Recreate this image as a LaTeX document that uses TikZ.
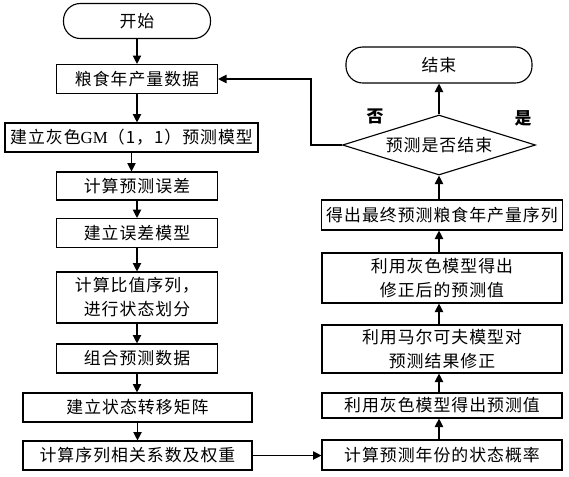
\documentclass[tikz,border=0pt]{standalone}
\usepackage{fontspec}
\setmainfont[LetterSpace=6]{Noto Sans CJK SC}
\newfontfamily\latinfont{Liberation Serif}
\usepackage{tikz}
\usetikzlibrary{shapes.geometric,arrows.meta}
\tikzset{
  box/.style={draw,thick,rectangle,inner sep=0pt,align=center,font=\fontsize{12}{17}\selectfont},
  term/.style={box,rounded corners=0.42cm},
  decide/.style={draw,thick,diamond,aspect=3,inner sep=0pt,font=\fontsize{12}{17}\selectfont},
  arr/.style={thick,-{Triangle[length=6pt,width=6pt]}}
}
\begin{document}
\begin{tikzpicture}[x=0.025cm,y=-0.025cm]
      \useasboundingbox (0,0) rectangle (569,476);
      % left column
      \node[term,minimum width=147*0.025cm,minimum height=35*0.025cm] (start) at (137,21) {开始};
      \node[box,minimum width=161*0.025cm,minimum height=29*0.025cm] (data) at (137,79) {粮食年产量数据};
      \node[box,minimum width=253*0.025cm,minimum height=29*0.025cm] (gm) at (131.5,137.5) {建立灰色{\latinfont GM}（1，1）预测模型};
      \node[box,minimum width=161*0.025cm,minimum height=28*0.025cm] (err) at (137,186) {计算预测误差};
      \node[box,minimum width=161*0.025cm,minimum height=29*0.025cm] (errmod) at (137,233) {建立误差模型};
      \node[box,minimum width=161*0.025cm,minimum height=51*0.025cm] (ratio) at (137,297.5) {计算比值序列，\\进行状态划分};
      \node[box,minimum width=161*0.025cm,minimum height=29*0.025cm] (comb) at (137,358.5) {组合预测数据};
      \node[box,minimum width=229*0.025cm,minimum height=29*0.025cm] (trans) at (137.5,407.5) {建立状态转移矩阵};
      \node[box,minimum width=229*0.025cm,minimum height=29*0.025cm] (corr) at (137.5,455.5) {计算序列相关系数及权重};
      % right column
      \node[box,minimum width=240*0.025cm,minimum height=30*0.025cm] (prob) at (442,455) {计算预测年份的状态概率};
      \node[box,minimum width=240*0.025cm,minimum height=25*0.025cm] (gpred) at (442,405.5) {利用灰色模型得出预测值};
      \node[box,minimum width=240*0.025cm,minimum height=48*0.025cm] (markov) at (442,349) {利用马尔可夫模型对\\预测结果修正};
      \node[box,minimum width=240*0.025cm,minimum height=50*0.025cm] (fixed) at (442,278) {利用灰色模型得出\\修正后的预测值};
      \node[box,minimum width=241*0.025cm,minimum height=30*0.025cm] (final) at (442,215) {得出最终预测粮食年产量序列};
      \node[decide,minimum width=193*0.025cm,minimum height=60*0.025cm] (dec) at (439,145) {预测是否结束};
      \node[term,minimum width=186*0.025cm,minimum height=36*0.025cm] (stop) at (439,65) {结束};
      \node[font=\fontsize{12}{14}\selectfont\bfseries] (no) at (375,116) {否};
      \node[font=\fontsize{12}{14}\selectfont\bfseries] (yes) at (523,118) {是};
      % connectors
      \foreach \a/\b in {start/data,data/gm,gm/err,err/errmod,errmod/ratio,ratio/comb,comb/trans,trans/corr}
        \draw[arr] (\a.south) -- (\a.south |- \b.north);
      \draw[arr] (corr.east) -- (corr.east -| prob.west);
      \foreach \a/\b in {prob/gpred,gpred/markov,markov/fixed,fixed/final}
        \draw[arr] (\a.north -| dec.north) -- (\b.south -| dec.north);
      \draw[arr] (final.north -| dec.south) -- (dec.south);
      \draw[arr] (dec.north) -- (stop.south);
      \draw[arr] (dec.west) -- ++(-31,0) |- (data.east);
   \end{tikzpicture}
\end{document}
